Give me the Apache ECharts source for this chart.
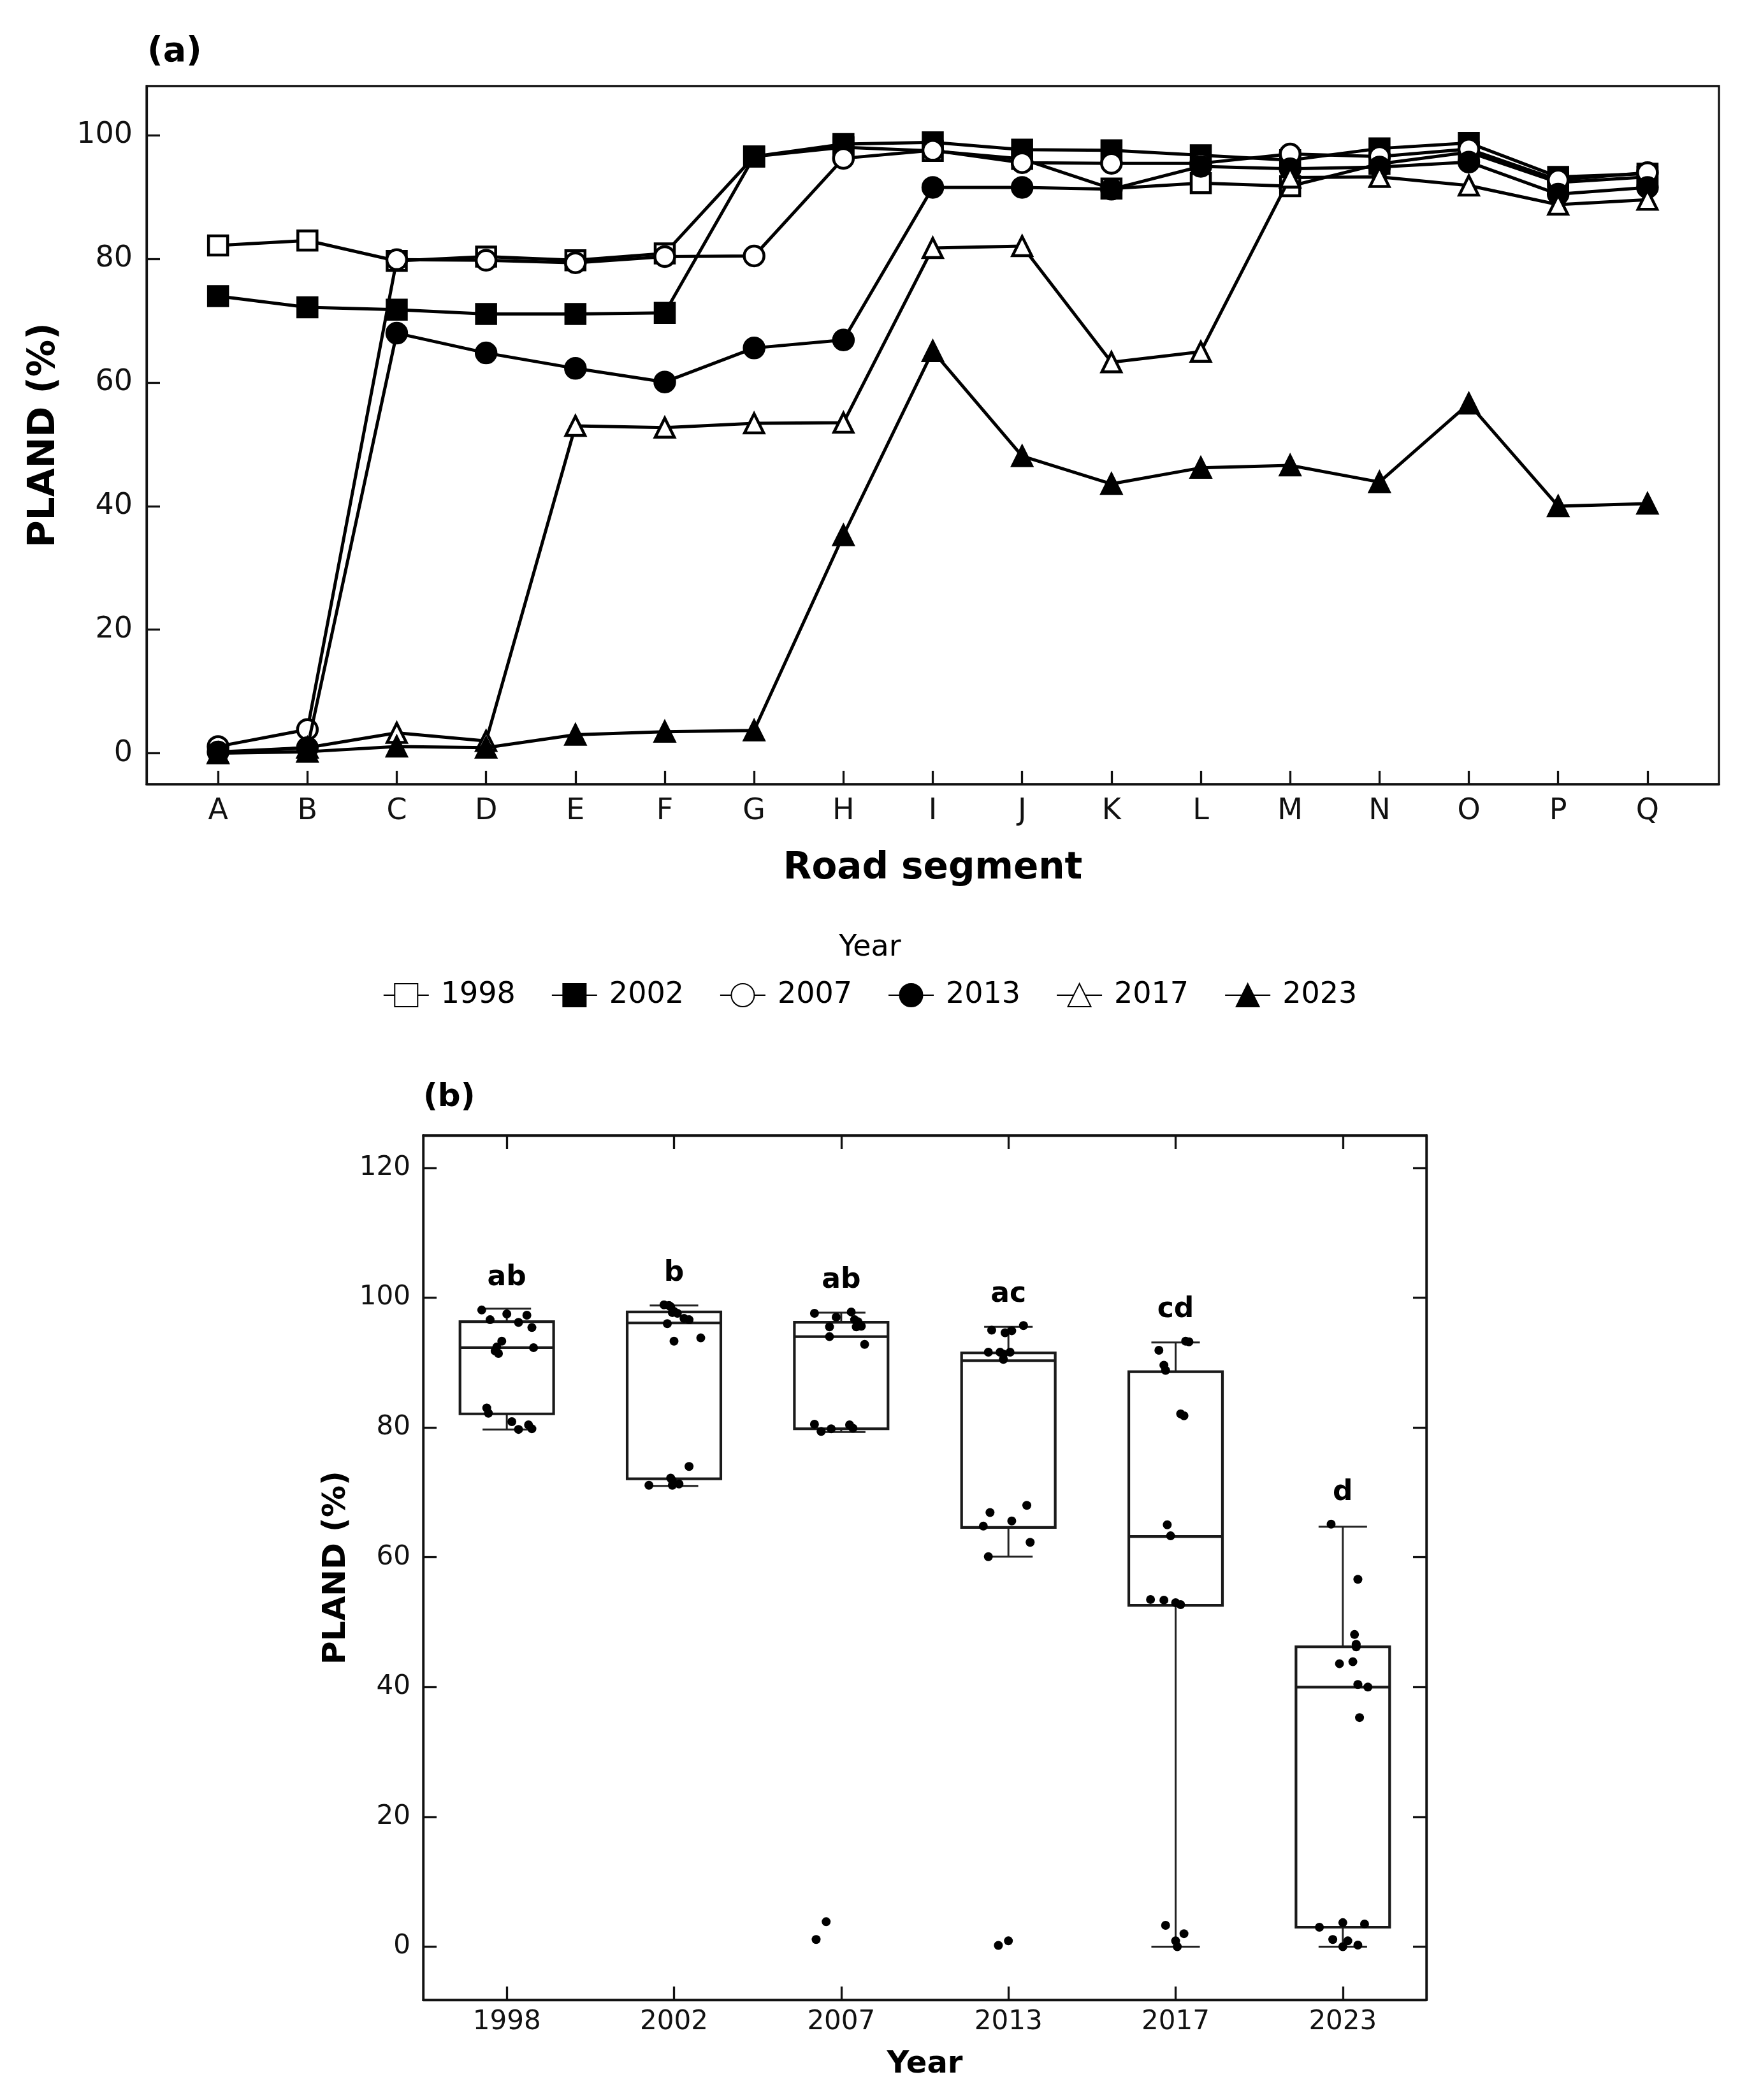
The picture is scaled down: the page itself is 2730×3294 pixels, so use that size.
<!DOCTYPE html>
<html lang="en">
<head>
    <meta charset="UTF-8">
    <title>PLAND by road segment and year</title>
    <script src="https://cdn.jsdelivr.net/npm/echarts@6/dist/echarts.min.js"></script>
    <style>
        html, body { margin: 0; padding: 0; background: #fff; }
        #chart { width: 2730px; height: 3294px; }
    </style>
</head>
<body>
    <div id="chart"></div>

    <script>
        // road segments (x axis of panel a)
        var segments = ['A', 'B', 'C', 'D', 'E', 'F', 'G', 'H', 'I', 'J', 'K', 'L', 'M', 'N', 'O', 'P', 'Q'];
        var years = ['1998', '2002', '2007', '2013', '2017', '2023'];

        // PLAND (%) for each road segment, one list per year
        var pland1998 = [82.2, 83.0, 79.7, 80.4, 79.8, 80.9, 96.6, 98.1, 97.5, 96.2, 91.4, 92.3, 91.8, 95.4, 97.3, 92.4, 93.3];
        var pland2002 = [74.0, 72.2, 71.8, 71.1, 71.1, 71.3, 96.6, 98.6, 98.9, 97.7, 97.6, 96.8, 96.0, 97.9, 98.8, 93.3, 93.8];
        var pland2007 = [1.1, 3.85, 79.9, 79.8, 79.4, 80.4, 80.5, 96.3, 97.6, 95.6, 95.5, 95.5, 97.0, 96.6, 97.8, 92.8, 94.0];
        var pland2013 = [0.2, 0.9, 68.0, 64.8, 62.3, 60.1, 65.6, 66.9, 91.6, 91.6, 91.3, 95.0, 94.6, 94.9, 95.7, 90.5, 91.6];
        var pland2017 = [0.0, 0.9, 3.3, 2.0, 53.0, 52.7, 53.4, 53.5, 81.8, 82.1, 63.3, 65.0, 93.2, 93.3, 91.9, 88.8, 89.6];
        var pland2023 = [0.0, 0.25, 1.1, 0.9, 3.0, 3.5, 3.7, 35.3, 65.1, 48.1, 43.6, 46.2, 46.6, 43.9, 56.6, 40.0, 40.4];

        // horizontal spread of the dots in panel b (fraction of one category)
        var jitter1998 = [-0.11, -0.12, 0.07, 0.13, 0.15, 0.03, -0.10, -0.15, 0.00, 0.07, -0.05, 0.16, -0.07, 0.15, 0.12, -0.06, -0.03];
        var jitter2002 = [0.09, -0.02, -0.01, -0.15, -0.01, 0.03, 0.09, -0.02, -0.06, -0.01, 0.02, 0.06, -0.04, 0.00, -0.03, 0.00, 0.16];
        var jitter2007 = [-0.15, -0.09, 0.07, -0.06, -0.12, 0.05, -0.16, 0.10, -0.16, 0.12, 0.09, -0.07, -0.03, 0.08, 0.06, 0.14, -0.07];
        var jitter2013 = [-0.06, 0.00, 0.11, -0.15, 0.13, -0.12, 0.02, -0.11, -0.12, -0.05, -0.03, -0.10, -0.02, 0.02, 0.09, -0.03, 0.01];
        var jitter2017 = [0.01, 0.00, -0.06, 0.05, 0.00, 0.03, -0.07, -0.15, 0.05, 0.03, -0.03, -0.05, 0.08, 0.06, -0.10, -0.06, -0.07];
        var jitter2023 = [0.00, 0.09, -0.06, 0.03, -0.14, 0.13, 0.00, 0.10, -0.07, 0.07, -0.02, 0.08, 0.08, 0.06, 0.09, 0.15, 0.09];

        // box plot of panel b
        var whiskerLow = [79.7, 71.0, 79.3, 60.1, 0.0, 0.0];
        var boxQ1 = [82.1, 72.1, 79.8, 64.6, 52.6, 3.0];
        var boxMedian = [92.3, 96.1, 94.0, 90.3, 63.2, 40.0];
        var boxQ3 = [96.3, 97.8, 96.2, 91.5, 88.6, 46.2];
        var whiskerHigh = [98.3, 98.8, 97.7, 95.5, 93.1, 64.7];

        // group letters above each box (value at the letters' bottom)
        var groupLetters = ['ab', 'b', 'ab', 'ac', 'cd', 'd'];
        var letterY = [101.6, 102.3, 101.2, 99.1, 96.7, 68.5];

        // tick labels
        var yTicksA = [0, 20, 40, 60, 80, 100];
        var yTicksB = [0, 20, 40, 60, 80, 100, 120];

        var plandByYear = [pland1998, pland2002, pland2007, pland2013, pland2017, pland2023];
        var jitterByYear = [jitter1998, jitter2002, jitter2007, jitter2013, jitter2017, jitter2023];

        var FONT = "'DejaVu Sans', sans-serif";
        var INK = '#111';
        var segIdx = segments.map(function (s, i) { return i; });
        var yearIdx = years.map(function (y, i) { return i; });

        // marker of each year in panel a
        var markers = [
            { symbol: 'rect', fill: '#fff' },
            { symbol: 'rect', fill: '#000' },
            { symbol: 'circle', fill: '#fff' },
            { symbol: 'circle', fill: '#000' },
            { symbol: 'triangle', fill: '#fff' },
            { symbol: 'triangle', fill: '#000' }
        ];

        function frameAxis(opts) {
            var ax = {
                gridIndex: opts.grid,
                type: 'value',
                position: opts.position,
                min: opts.min,
                max: opts.max,
                axisLine: { show: true, onZero: false, lineStyle: { color: INK, width: 3.3 } },
                axisTick: {
                    show: !!opts.ticks, inside: true, length: 21,
                    customValues: opts.ticks, lineStyle: { color: INK, width: 3.3 }
                },
                axisLabel: {
                    show: !!opts.labels,
                    customValues: opts.ticks,
                    formatter: opts.labels,
                    fontSize: opts.fontSize, color: INK, fontFamily: FONT, margin: opts.margin
                },
                splitLine: { show: false }
            };
            if (opts.name) {
                ax.name = opts.name;
                ax.nameLocation = 'middle';
                ax.nameGap = opts.nameGap;
                ax.nameTextStyle = { fontSize: opts.nameSize, fontWeight: 'bold', color: '#000', fontFamily: FONT };
            }
            return ax;
        }

        var chart = echarts.init(document.getElementById('chart'));

        // panel a: one line per year
        var lineSeries = years.map(function (y, k) {
            return {
                name: y,
                type: 'line',
                xAxisIndex: 0,
                yAxisIndex: 0,
                data: segIdx.map(function (i) { return [i, plandByYear[k][i]]; }),
                symbol: markers[k].symbol,
                symbolSize: markers[k].symbol === 'circle' ? 31 : 30,
                showAllSymbol: true,
                lineStyle: { color: '#000', width: 5 },
                itemStyle: { color: markers[k].fill, borderColor: '#000', borderWidth: 4.5 },
                emphasis: { disabled: true },
                z: 2 + k
            };
        });

        // panel b: boxes and whiskers
        var BOX_HALF = 0.28, CAP_HALF = 0.145;
        var boxSeries = {
            type: 'custom',
            xAxisIndex: 1,
            yAxisIndex: 1,
            silent: true,
            data: yearIdx.map(function (k) {
                return [k, whiskerLow[k], boxQ1[k], boxMedian[k], boxQ3[k], whiskerHigh[k]];
            }),
            encode: { x: 0, y: [1, 2, 3, 4, 5] },
            renderItem: function (params, api) {
                var k = api.value(0);
                var lo = api.coord([k, api.value(1)]);
                var q1 = api.coord([k, api.value(2)]);
                var md = api.coord([k, api.value(3)]);
                var q3 = api.coord([k, api.value(4)]);
                var hi = api.coord([k, api.value(5)]);
                var bl = api.coord([k - BOX_HALF, 0])[0], br = api.coord([k + BOX_HALF, 0])[0];
                var cl = api.coord([k - CAP_HALF, 0])[0], cr = api.coord([k + CAP_HALF, 0])[0];
                var whisk = { stroke: '#222', lineWidth: 3 };
                var boxLine = { stroke: '#1a1a1a', lineWidth: 4.2, fill: null };
                return {
                    type: 'group',
                    children: [
                        { type: 'line', shape: { x1: lo[0], y1: lo[1], x2: lo[0], y2: q1[1] }, style: whisk },
                        { type: 'line', shape: { x1: hi[0], y1: q3[1], x2: hi[0], y2: hi[1] }, style: whisk },
                        { type: 'line', shape: { x1: cl, y1: lo[1], x2: cr, y2: lo[1] }, style: whisk },
                        { type: 'line', shape: { x1: cl, y1: hi[1], x2: cr, y2: hi[1] }, style: whisk },
                        { type: 'rect', shape: { x: bl, y: q3[1], width: br - bl, height: q1[1] - q3[1] }, style: boxLine },
                        { type: 'line', shape: { x1: bl, y1: md[1], x2: br, y2: md[1] }, style: boxLine }
                    ]
                };
            },
            z: 2
        };

        // panel b: every segment value as a dot
        var dotData = [];
        yearIdx.forEach(function (k) {
            segIdx.forEach(function (i) {
                dotData.push([k + jitterByYear[k][i], plandByYear[k][i]]);
            });
        });
        var dotSeries = {
            type: 'scatter',
            xAxisIndex: 1,
            yAxisIndex: 1,
            data: dotData,
            symbol: 'circle',
            symbolSize: 14,
            itemStyle: { color: '#000', opacity: 1 },
            silent: true,
            z: 3
        };

        var letterSeries = {
            type: 'scatter',
            xAxisIndex: 1,
            yAxisIndex: 1,
            data: yearIdx.map(function (k) { return [k, letterY[k]]; }),
            symbolSize: 1,
            itemStyle: { color: 'rgba(0,0,0,0)', opacity: 1 },
            label: {
                show: true, position: 'top', distance: 0, offset: [0, 8], opacity: 1,
                formatter: function (p) { return groupLetters[p.dataIndex]; },
                fontSize: 44, fontWeight: 'bold', color: '#000', fontFamily: FONT
            },
            silent: true,
            z: 4
        };

        var option = {
            animation: false,
            backgroundColor: '#fff',
            textStyle: { fontFamily: FONT },
            grid: [
                { left: 230, top: 135, width: 2467, height: 1095, show: true, borderColor: INK, borderWidth: 3.3, outerBoundsMode: 'none' },
                { left: 664, top: 1781, width: 1574, height: 1356, show: true, borderColor: INK, borderWidth: 3.3, outerBoundsMode: 'none' }
            ],
            xAxis: [
                frameAxis({
                    grid: 0, position: 'bottom', min: -0.8, max: 16.8, ticks: segIdx,
                    labels: function (v) { return segments[v]; }, fontSize: 46, margin: 20,
                    name: 'Road segment', nameGap: 104, nameSize: 58
                }),
                frameAxis({
                    grid: 1, position: 'bottom', min: -0.5, max: 5.5, ticks: yearIdx,
                    labels: function (v) { return years[v]; }, fontSize: 42, margin: 14,
                    name: 'Year', nameGap: 78, nameSize: 48
                }),
                frameAxis({ grid: 1, position: 'top', min: -0.5, max: 5.5, ticks: yearIdx })
            ],
            yAxis: [
                frameAxis({
                    grid: 0, position: 'left', min: -5, max: 108, ticks: yTicksA,
                    labels: function (v) { return String(v); }, fontSize: 46, margin: 22,
                    name: 'PLAND (%)', nameGap: 131, nameSize: 58
                }),
                frameAxis({
                    grid: 1, position: 'left', min: -8.2, max: 125, ticks: yTicksB,
                    labels: function (v) { return String(v); }, fontSize: 42, margin: 20,
                    name: 'PLAND (%)', nameGap: 108, nameSize: 50
                }),
                frameAxis({ grid: 1, position: 'right', min: -8.2, max: 125, ticks: yTicksB })
            ],
            legend: {
                data: years,
                left: 'center',
                top: 1533,
                itemWidth: 71,
                itemHeight: 45,
                itemGap: 56,
                selectedMode: false,
                textStyle: { fontSize: 46, color: '#000', fontFamily: FONT, padding: [0, 0, 0, 14] }
            },
            graphic: [
                { type: 'text', x: 231, y: 82, style: { text: '(a)', font: 'bold 54px ' + FONT, fill: '#000', verticalAlign: 'middle', textVerticalAlign: 'middle' } },
                { type: 'text', x: 664, y: 1722, style: { text: '(b)', font: 'bold 50px ' + FONT, fill: '#000', verticalAlign: 'middle', textVerticalAlign: 'middle' } },
                { type: 'text', x: 1365, y: 1487, style: { text: 'Year', font: '46px ' + FONT, fill: '#000', align: 'center', textAlign: 'center', verticalAlign: 'middle', textVerticalAlign: 'middle' } }
            ],
            series: lineSeries.concat([boxSeries, dotSeries, letterSeries])
        };

        chart.setOption(option);
    </script>
</body>
</html>
